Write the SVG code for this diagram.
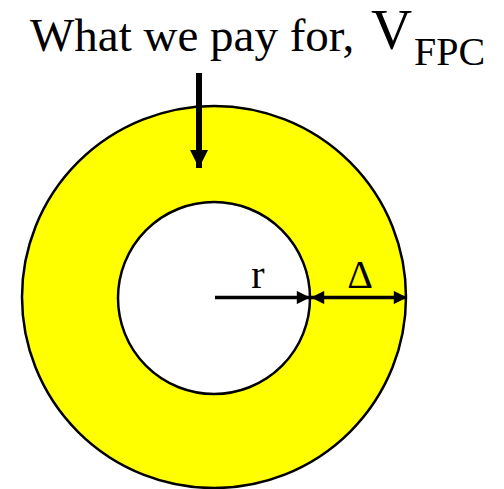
<svg xmlns="http://www.w3.org/2000/svg" width="504" height="489" viewBox="0 0 504 489">
<style>
.lbl{font-family:"Liberation Serif","Times New Roman",serif;fill:#000}
.ring{fill:#ffff00;stroke:#000;stroke-width:2.5}
.hole{fill:#fff;stroke:#000;stroke-width:2.5}
.conn{stroke:#000;fill:none}
</style>
<defs>
<marker id="ahBig" viewBox="0 0 10 10" refX="10" refY="5" markerWidth="4.5" markerHeight="3" markerUnits="strokeWidth" orient="auto"><path d="M0,0 L10,5 L0,10 z" fill="#000"/></marker>
<marker id="ah" viewBox="0 0 10 10" refX="10" refY="5" markerWidth="5" markerHeight="4" markerUnits="strokeWidth" orient="auto-start-reverse"><path d="M0,0 L10,5 L0,10 z" fill="#000"/></marker>
<marker id="ahLong" viewBox="0 0 10 10" refX="10" refY="5" markerWidth="7" markerHeight="4" markerUnits="strokeWidth" orient="auto-start-reverse"><path d="M0,0 L10,5 L0,10 z" fill="#000"/></marker>
</defs>
<g id="annulus">
<ellipse class="ring" cx="214" cy="297" rx="192" ry="191"/>
<circle class="hole" cx="214" cy="298" r="96"/>
</g>
<g id="title">
<text class="lbl" y="51"><tspan x="30" font-size="47">What we pay for,</tspan><tspan x="371" font-size="57" y="49">V</tspan><tspan x="414" font-size="40" y="65">FPC</tspan></text>
</g>
<g id="r-label"><text class="lbl" x="258" y="288" font-size="40" text-anchor="middle">r</text></g>
<g id="delta-label"><text class="lbl" x="360" y="288" font-size="40" text-anchor="middle">Δ</text></g>
<g id="connectors">
<line class="conn" x1="199" y1="73" x2="199" y2="168" stroke-width="6" marker-end="url(#ahBig)"/>
<line class="conn" x1="215" y1="297.5" x2="310" y2="297.5" stroke-width="3.3" marker-end="url(#ah)"/>
<line class="conn" x1="311" y1="297.5" x2="407" y2="297.5" stroke-width="3.3" marker-start="url(#ahLong)" marker-end="url(#ahLong)"/>
</g>
</svg>
